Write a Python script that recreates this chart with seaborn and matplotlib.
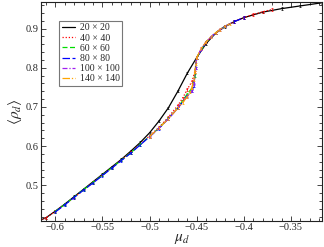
import numpy as np
import pandas as pd
import matplotlib
matplotlib.use("Agg")
import matplotlib.pyplot as plt
import seaborn as sns
from matplotlib.ticker import MultipleLocator, FuncFormatter

# --- data ---
mu_20 = [-0.615, -0.61, -0.60, -0.59, -0.58, -0.57, -0.56, -0.55, -0.54, -0.53, -0.52,
         -0.51, -0.50, -0.49, -0.48, -0.47, -0.46, -0.45, -0.44, -0.43, -0.42,
         -0.41, -0.40, -0.38, -0.36, -0.34, -0.317]
rho_20 = [0.412, 0.417, 0.434, 0.452, 0.471, 0.490, 0.509, 0.528, 0.547, 0.566, 0.587,
          0.609, 0.634, 0.664, 0.698, 0.740, 0.786, 0.826, 0.862, 0.888, 0.905,
          0.918, 0.928, 0.942, 0.951, 0.958, 0.966]

mu_40 = [-0.615, -0.61, -0.60, -0.58, -0.56, -0.54, -0.52, -0.50, -0.49, -0.48, -0.47,
         -0.465, -0.46, -0.455, -0.452, -0.45, -0.445, -0.44, -0.43, -0.42,
         -0.41, -0.40, -0.39, -0.38, -0.37]
rho_40 = [0.412, 0.417, 0.433, 0.469, 0.507, 0.545, 0.584, 0.626, 0.648, 0.674, 0.704,
          0.722, 0.745, 0.765, 0.790, 0.826, 0.848, 0.866, 0.889, 0.906,
          0.918, 0.928, 0.936, 0.943, 0.949]

mu_60 = [-0.60, -0.59, -0.58, -0.57, -0.56, -0.55, -0.54, -0.53, -0.52, -0.51, -0.50,
         -0.49, -0.48, -0.47, -0.46, -0.455, -0.452, -0.45, -0.44, -0.43, -0.42]
rho_60 = [0.433, 0.451, 0.470, 0.489, 0.507, 0.526, 0.545, 0.564, 0.583, 0.604, 0.625,
          0.646, 0.671, 0.698, 0.733, 0.748, 0.780, 0.826, 0.866, 0.889, 0.906]

mu_80 = [-0.60, -0.59, -0.58, -0.57, -0.56, -0.55, -0.54, -0.53, -0.52, -0.51, -0.50,
         -0.49, -0.48, -0.47, -0.46, -0.455, -0.453, -0.451, -0.45, -0.44, -0.43,
         -0.42, -0.41, -0.40]
rho_80 = [0.432, 0.450, 0.469, 0.488, 0.506, 0.525, 0.544, 0.563, 0.582, 0.603, 0.624,
          0.645, 0.670, 0.697, 0.728, 0.740, 0.755, 0.800, 0.826, 0.866, 0.889,
          0.906, 0.918, 0.928]

mu_100 = [-0.50, -0.49, -0.48, -0.47, -0.46, -0.455, -0.453, -0.451, -0.45, -0.445,
          -0.44, -0.435, -0.43, -0.425, -0.42]
rho_100 = [0.625, 0.646, 0.670, 0.697, 0.727, 0.742, 0.758, 0.800, 0.826, 0.849,
           0.866, 0.879, 0.889, 0.898, 0.906]

mu_140 = [-0.50, -0.49, -0.48, -0.47, -0.465, -0.46, -0.457, -0.455, -0.453, -0.452,
          -0.451, -0.45, -0.445, -0.44, -0.435, -0.43, -0.425, -0.42, -0.415]
rho_140 = [0.625, 0.646, 0.670, 0.697, 0.711, 0.726, 0.738, 0.750, 0.770, 0.790,
           0.810, 0.826, 0.850, 0.866, 0.879, 0.889, 0.898, 0.906, 0.912]

labels = ["20 × 20", "40 × 40", "60 × 60", "80 × 80", "100 × 100", "140 × 140"]
colors = ["#000000", "#ff0000", "#00dd00", "#0000ff", "#a020f0", "#ffa500"]
dashes = [None, (1, 1.5), (4, 2), (6, 2), (4, 1.5, 1, 1.5), (6, 1.5, 1, 1.5, 1, 1.5)]
series = [(mu_20, rho_20), (mu_40, rho_40), (mu_60, rho_60),
          (mu_80, rho_80), (mu_100, rho_100), (mu_140, rho_140)]

sns.set_style("ticks")
plt.rcParams["font.family"] = ["Liberation Serif", "DejaVu Serif"]
plt.rcParams["mathtext.fontset"] = "stix"

fig = plt.figure(figsize=(3.24, 2.47), dpi=100)
ax = fig.add_axes([0.127, 0.107, 0.867, 0.885])

for (mu, rho), lab, col, ds in zip(series, labels, colors, dashes):
    df = pd.DataFrame({"mu": mu, "rho": rho})
    sns.lineplot(data=df, x="mu", y="rho", ax=ax, color=col, lw=0.9,
                 label=lab, sort=False, dashes=False)
    if ds is not None:
        ax.lines[-1].set_dashes(ds)
    # small error bars with caps, as in the original
    ax.errorbar(mu, rho, yerr=0.003, fmt="none", ecolor=col, elinewidth=0.5,
                capsize=1.0, capthick=0.5)

ax.set_xlim(-0.615, -0.317)
ax.set_ylim(0.41, 0.968)
ax.xaxis.set_major_locator(MultipleLocator(0.05))
ax.xaxis.set_minor_locator(MultipleLocator(0.01))
ax.yaxis.set_major_locator(MultipleLocator(0.1))
ax.yaxis.set_minor_locator(MultipleLocator(0.02))
ax.xaxis.set_major_formatter(FuncFormatter(lambda v, p: f"{v:g}".replace("-", "\u2212")))
ax.yaxis.set_major_formatter(FuncFormatter(lambda v, p: f"{v:g}"))
ax.tick_params(which="both", direction="in", top=True, right=True, labelsize=7.5, width=0.6)
ax.tick_params(which="major", length=3.5, pad=2)
ax.tick_params(which="minor", length=2)
for s in ax.spines.values():
    s.set_linewidth(0.8)
    s.set_color("#222222")

ax.set_xlabel(r"$\mu_d$", fontsize=11, labelpad=0)
ax.set_ylabel(r"$\langle\rho_d\rangle$", fontsize=11, labelpad=1)

leg = ax.legend(loc="upper left", bbox_to_anchor=(0.064, 0.915), fontsize=7,
                frameon=True, fancybox=False, edgecolor="#555555", handlelength=1.3,
                handletextpad=0.5, labelspacing=0.12, borderpad=0.3, borderaxespad=0)
leg.get_frame().set_linewidth(0.8)

fig.savefig("out.png", dpi=100)
